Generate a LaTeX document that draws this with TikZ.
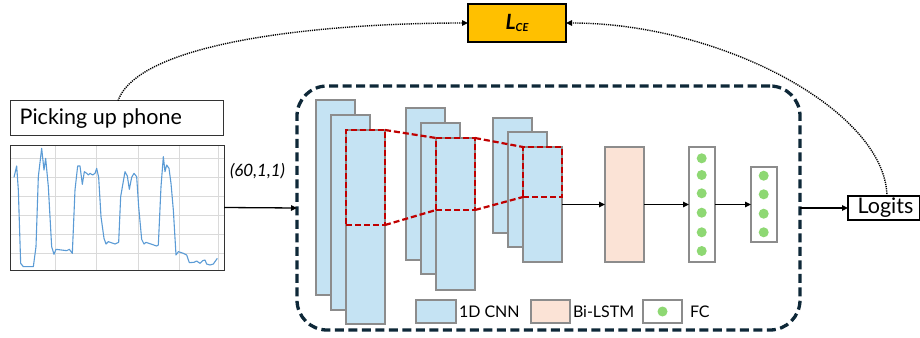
\documentclass[tikz,border=0pt]{standalone}
\usepackage{fontspec}
\setmainfont{Lato}
\usetikzlibrary{arrows.meta}
\definecolor{cnn}{HTML}{C5E3F3}
\definecolor{lstm}{HTML}{FBE3D6}
\definecolor{dotg}{HTML}{8ED873}
\definecolor{navy}{HTML}{0E2838}
\definecolor{redd}{HTML}{C00000}
\definecolor{gold}{HTML}{FFC000}
\definecolor{plotblue}{HTML}{5B9BD5}
\definecolor{gridg}{HTML}{DADADA}
\definecolor{boxg}{HTML}{8C8C8C}
\begin{document}
\begin{tikzpicture}[x=1pt,y=-1pt,
  every node/.style={inner sep=0pt, outer sep=0pt},
  cnnbox/.style={draw=boxg, line width=1.6pt, fill=cnn, anchor=north west},
  lstmbox/.style={draw=boxg, line width=1.6pt, fill=lstm, anchor=north west},
  fcbox/.style={draw=boxg, line width=1.6pt, fill=white, anchor=north west},
  reddash/.style={draw=redd, line width=2.2pt, dash pattern=on 6pt off 3pt},
  arr/.style={-{Triangle[length=6pt,width=5.5pt]}, line width=1.3pt},
  dotline/.style={line width=1.4pt, dash pattern=on 1.2pt off 1pt, -{Triangle[length=6pt,width=5.5pt]}},
  gdot/.style={circle, fill=dotg, minimum size=10pt},
  txtbox/.style={draw=black!80, line width=1pt, anchor=north west}]
\useasboundingbox (0,0) rectangle (920,337);

% loss box
\node[draw=black, line width=1.5pt, fill=gold, minimum width=98pt, minimum height=38pt, anchor=north west] (lce) at (468,4) {};
\node at (lce.center) {\fontsize{21}{24}\selectfont\bfseries\itshape L\raisebox{-0.25ex}{\fontsize{11}{12}\selectfont CE}};

% input label and chart
\node[txtbox, minimum width=213pt, minimum height=35pt] (pick) at (10.7,100.7) {};
\node[anchor=west] at ([xshift=9pt]pick.west) {\fontsize{21.5}{24}\selectfont Picking up phone};
\node[txtbox, minimum width=214pt, minimum height=125pt] (chart) at (10,145) {};
\foreach \gx in {55,96.7,138.3,179.3,218.3} \draw[gridg, line width=0.8pt] (\gx,145.5) -- (\gx,269.8);
\foreach \gy in {158.3,177.3,196,215,234,253.3} \draw[gridg, line width=0.8pt] (10.5,\gy) -- (223.8,\gy);
\begin{scope}[shift={(0,90)}, scale=0.33333]
\draw[plotblue, line width=1.1pt, line join=round]
 (42,262)--(50,228)--(55,300)--(62,520)--(70,530)--(100,530)--(108,470)--(115,260)--(125,175)--(132,240)--(137,205)--(145,290)--(155,470)--(162,493)--(168,478)--(200,482)--(208,478)--(217,490)--(225,300)--(233,228)--(240,228)--(247,283)--(253,245)--(260,250)--(265,255)--(270,250)--(278,255)--(285,250)--(290,235)--(296,262)--(303,380)--(312,445)--(318,462)--(325,455)--(345,462)--(356,457)--(362,320)--(375,245)--(382,258)--(388,298)--(395,262)--(402,250)--(410,260)--(416,350)--(425,448)--(432,462)--(438,457)--(470,468)--(475,465)--(483,290)--(490,200)--(495,245)--(500,225)--(507,235)--(513,280)--(520,360)--(528,495)--(535,485)--(550,490)--(560,495)--(568,518)--(582,517)--(590,513)--(600,520)--(608,512)--(615,510)--(620,522)--(630,525)--(640,522)--(652,505);
\end{scope}
\draw[black!80, line width=1pt] (10,145) rectangle (224,270);
\node[anchor=west] (shape) at (230,171) {\fontsize{17}{20}\selectfont\itshape (60,1,1)};

% network container
\node[draw=navy, line width=3.3pt, dash pattern=on 9pt off 4.5pt, rounded corners=30pt, minimum width=503pt, minimum height=244pt, anchor=north west] (net) at (297,86) {};

% CNN layers
\node[cnnbox, minimum width=39pt, minimum height=195pt] (c11) at (316,100) {};
\node[cnnbox, minimum width=39pt, minimum height=195pt] (c12) at (331,115) {};
\node[cnnbox, minimum width=39pt, minimum height=194pt] (c13) at (346,130) {};
\node[cnnbox, minimum width=39pt, minimum height=152pt] (c21) at (406,108) {};
\node[cnnbox, minimum width=39pt, minimum height=151pt] (c22) at (421,123) {};
\node[cnnbox, minimum width=39pt, minimum height=152pt] (c23) at (436,138) {};
\node[cnnbox, minimum width=39pt, minimum height=115pt] (c31) at (493,118) {};
\node[cnnbox, minimum width=39pt, minimum height=115pt] (c32) at (508,132) {};
\node[cnnbox, minimum width=39pt, minimum height=115pt] (c33) at (523,147) {};

% red receptive fields
\node[reddash, minimum width=39pt, minimum height=95pt, anchor=north west] (r1) at (346,130) {};
\node[reddash, minimum width=39pt, minimum height=72pt, anchor=north west] (r2) at (436,138) {};
\node[reddash, minimum width=39pt, minimum height=50pt, anchor=north west] (r3) at (523,147) {};
\draw[reddash] (r1.north east) -- (r2.north west);
\draw[reddash] (r1.south east) -- (r2.south west);
\draw[reddash] (r2.north east) -- (r3.north west);
\draw[reddash] (r2.south east) -- (r3.south west);

% LSTM and FC
\node[lstmbox, minimum width=39pt, minimum height=115pt] (lstm) at (605,147) {};
\node[fcbox, minimum width=26pt, minimum height=115pt] (fc1) at (689,147) {};
\foreach \dy in {158.3,175,193.3,212.7,232.3,251} \node[gdot] at (701.7,\dy) {};
\node[fcbox, minimum width=26pt, minimum height=75pt] (fc2) at (751,167) {};
\foreach \dy in {175.7,194.3,213.7,232.3} \node[gdot] at (763.7,\dy) {};

\draw[arr] (c33.east) -- (lstm.west);
\draw[arr] (lstm.east) -- (fc1.west);
\draw[arr] (fc1.east) -- (fc2.west);

% logits
\node[draw=black, line width=1.3pt, minimum width=72pt, minimum height=24pt, anchor=north west] (logits) at (848,196) {};
\node at ([xshift=1.5pt]logits.center) {\fontsize{21.5}{24}\selectfont Logits};

\draw[arr] (chart.east) -- (net.west);
\draw[arr] (net.east) -- (logits.west);

% loss connectors
\coordinate (pt) at (118,100.7);
\coordinate (lt) at (887,196);
\draw[dotline] (pt) .. controls (140,40) and (330,23) .. (lce.west);
\draw[dotline] (lt) .. controls (885,110) and (720,23) .. (lce.east);

% legend
\node[cnnbox, minimum width=40pt, minimum height=23pt] (lg1) at (416,300) {};
\node[anchor=west] at ([xshift=3pt]lg1.east) {\fontsize{16}{18}\selectfont 1D CNN};
\node[lstmbox, minimum width=39pt, minimum height=23pt] (lg2) at (531,300) {};
\node[anchor=west] at ([xshift=3pt]lg2.east) {\fontsize{16}{18}\selectfont Bi-LSTM};
\node[fcbox, minimum width=39pt, minimum height=23pt] (lg3) at (643,300) {};
\node[gdot] at (lg3.center) {};
\node[anchor=west] at ([xshift=8pt]lg3.east) {\fontsize{16}{18}\selectfont FC};
\end{tikzpicture}
\end{document}
